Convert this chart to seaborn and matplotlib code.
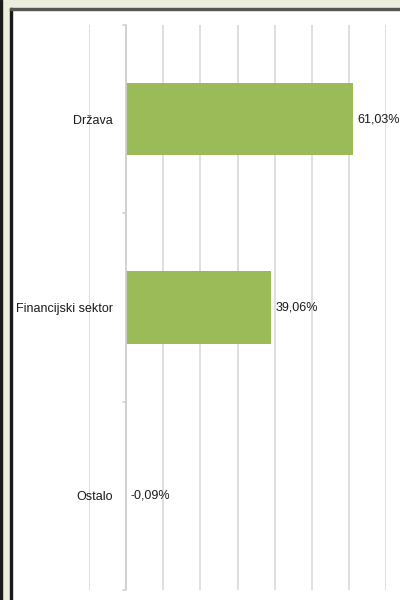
import matplotlib
matplotlib.use('Agg')
import matplotlib.pyplot as plt
import seaborn as sns
import pandas as pd

categories = ['Država', 'Financijski sektor', 'Ostalo']
values = [61.03, 39.06, -0.09]
labels = ['61,03%', '39,06%', '-0,09%']
x_ticks = [-10, 0, 10, 20, 30, 40, 50, 60, 70]

BAR_COLOR = '#9BBB59'
GRID_COLOR = '#D9D9D9'
BG_COLOR = '#EBEEDC'
FRAME_COLOR = '#1A1A1A'

sns.set_style('white')
plt.rcParams['font.family'] = ['Liberation Sans', 'DejaVu Sans']

df = pd.DataFrame({'cat': categories, 'val': values})

fig = plt.figure(figsize=(4, 6), dpi=100)
fig.patch.set_facecolor('white')

# beige strips + dark frame lines around the white panel
fig.patches.extend([
    plt.Rectangle((0, 1 - 8 / 600), 1, 8 / 600, color=BG_COLOR, transform=fig.transFigure, figure=fig, zorder=0),
    plt.Rectangle((0, 0), 10 / 400, 1, color=BG_COLOR, transform=fig.transFigure, figure=fig, zorder=0),
    plt.Rectangle((0, 0), 1.5 / 400, 1, color=FRAME_COLOR, transform=fig.transFigure, figure=fig, zorder=1),
    plt.Rectangle((10 / 400, 0), 1.5 / 400, 1 - 8 / 600, color=FRAME_COLOR, transform=fig.transFigure, figure=fig, zorder=1),
    plt.Rectangle((10 / 400, 1 - 9.5 / 600), 1 - 10 / 400, 1.5 / 600, color='#555555', transform=fig.transFigure, figure=fig, zorder=1),
])

ax = fig.add_axes([89 / 400, 10 / 600, (386 - 89) / 400, (590 - 25) / 600])
sns.barplot(data=df, x='val', y='cat', color=BAR_COLOR, width=0.385,
            saturation=1, linewidth=0, ax=ax, zorder=3)

ax.set_xlim(-10, 70)
ax.set_xticks(x_ticks)
ax.set_xticklabels([])
ax.xaxis.grid(True, color=GRID_COLOR, linewidth=1.2)
ax.set_axisbelow(True)
ax.tick_params(axis='x', length=0)
for s in ax.spines.values():
    s.set_visible(False)

# zero axis line and category boundary ticks
ax.axvline(0, color='#D0D0D0', linewidth=1.2, zorder=4)
for b in [-0.5, 0.5, 1.5, 2.5]:
    ax.plot([-0.9, 0], [b, b], color='#D0D0D0', linewidth=1.2, zorder=4, clip_on=False)

ax.set_ylim(2.5, -0.5)
ax.set_ylabel('')
ax.set_xlabel('')
# labels sit inside the axes, right-aligned ~13px left of the zero line
ax.tick_params(axis='y', length=0, pad=-17.3, labelsize=9, labelcolor='#1A1A1A')
for lbl in ax.get_yticklabels():
    lbl.set_zorder(5)

for i, (v, t) in enumerate(zip(values, labels)):
    ax.text(max(v, 0) + 1.2, i, t, va='center', ha='left', fontsize=9, color='#1A1A1A', zorder=5)

fig.savefig('out.png', dpi=100)
